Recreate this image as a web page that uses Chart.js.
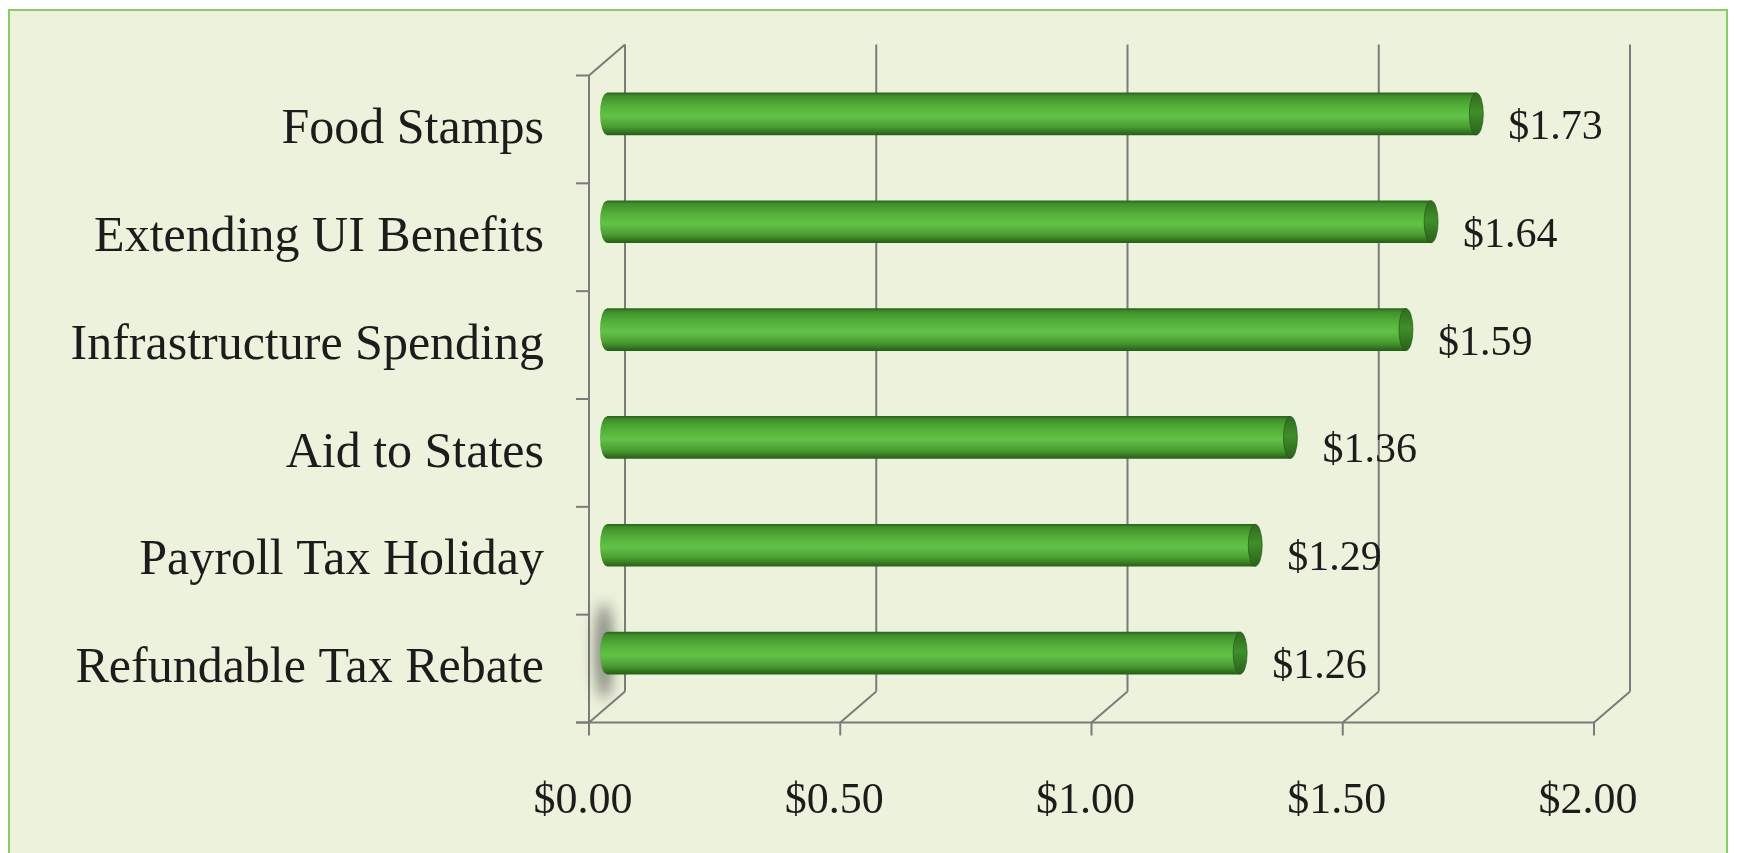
<!DOCTYPE html>
<html><head><meta charset="utf-8">
<script src="https://cdn.jsdelivr.net/npm/chart.js@4"></script>
<style>
html,body{margin:0;padding:0;background:#fff;width:1742px;height:853px;overflow:hidden}
#frame{position:absolute;left:8px;top:9px;width:1720px;height:870px;background:#edf2dc;border:2px solid #8cc96a;box-sizing:border-box}
#wrap{position:absolute;left:0;top:0;width:1742px;height:853px}
</style></head><body>
<div id="frame"></div>
<div id="wrap"><canvas id="c" width="1742" height="853"></canvas></div>
<script>
const categories = ['Food Stamps','Extending UI Benefits','Infrastructure Spending','Aid to States','Payroll Tax Holiday','Refundable Tax Rebate'];
const values = [1.73, 1.64, 1.59, 1.36, 1.29, 1.26];
const valueLabels = ['$1.73','$1.64','$1.59','$1.36','$1.29','$1.26'];
const tickValues = [0, 0.5, 1, 1.5, 2];
const tickLabels = ['$0.00','$0.50','$1.00','$1.50','$2.00'];

const DX = 18, DY = 15.5;       // half of the 3D depth offset
const LINE = '#7b7b7b';
const TEXT = '#1c1c1c';
const FONT = 'Liberation Serif';
const BAR_T = 42;

function bodyGradient(ctx, yc, h) {
  const g = ctx.createLinearGradient(0, yc - h/2, 0, yc + h/2);
  g.addColorStop(0, '#2c641d');
  g.addColorStop(0.07, '#3f8e2b');
  g.addColorStop(0.3, '#53ae39');
  g.addColorStop(0.55, '#62c247');
  g.addColorStop(0.8, '#4a9e32');
  g.addColorStop(0.93, '#34761f');
  g.addColorStop(1, '#285e19');
  return g;
}
function capGradient(ctx, yc, h) {
  const g = ctx.createLinearGradient(0, yc - h/2, 0, yc + h/2);
  g.addColorStop(0, '#2e6a1e');
  g.addColorStop(0.45, '#3f8f2a');
  g.addColorStop(1, '#2a621b');
  return g;
}

const frame3d = {
  id: 'frame3d',
  beforeDatasetsDraw(chart) {
    const ctx = chart.ctx, xs = chart.scales.x, a = chart.chartArea;
    const fTop = a.top + DY, fBot = a.bottom + DY, bTop = a.top - DY, bBot = a.bottom - DY;
    ctx.save();
    ctx.strokeStyle = LINE; ctx.lineWidth = 2; ctx.lineCap = 'butt';
    // back wall vertical gridlines
    tickValues.forEach(v => {
      const x = xs.getPixelForValue(v) + DX;
      ctx.beginPath(); ctx.moveTo(x, bTop); ctx.lineTo(x, bBot); ctx.stroke();
    });
    // floor: front edge, diagonals, ticks
    const xf0 = xs.getPixelForValue(tickValues[0]) - DX;
    const xf1 = xs.getPixelForValue(tickValues[tickValues.length-1]) - DX;
    ctx.beginPath(); ctx.moveTo(xf0 - 13, fBot); ctx.lineTo(xf1, fBot); ctx.stroke();
    tickValues.forEach(v => {
      const xf = xs.getPixelForValue(v) - DX, xb = xs.getPixelForValue(v) + DX;
      ctx.beginPath(); ctx.moveTo(xf, fBot); ctx.lineTo(xb, bBot); ctx.stroke();
      ctx.beginPath(); ctx.moveTo(xf, fBot); ctx.lineTo(xf, fBot + 13); ctx.stroke();
    });
    // left wall front line + top diagonal
    ctx.beginPath(); ctx.moveTo(xf0, fBot); ctx.lineTo(xf0, fTop); ctx.lineTo(xf0 + 2*DX, bTop); ctx.stroke();
    // category boundary ticks on left
    const n = categories.length, band = (a.bottom - a.top) / n;
    for (let i = 0; i <= n; i++) {
      const y = a.top + i * band + DY;
      ctx.beginPath(); ctx.moveTo(xf0 - 13, y); ctx.lineTo(xf0, y); ctx.stroke();
    }
    // soft shadow smudge near the lowest bar's base
    const last = chart.getDatasetMeta(0).data[n-1];
    if (last) {
      ctx.filter = 'blur(7px)';
      ctx.fillStyle = 'rgba(60,60,60,0.6)';
      ctx.beginPath();
      ctx.ellipse(last.base - 3, last.y - 2, 9, 48, 0, 0, Math.PI*2);
      ctx.fill();
      ctx.filter = 'none';
    }
    ctx.restore();
  },
  afterDatasetsDraw(chart) {
    const ctx = chart.ctx;
    const meta = chart.getDatasetMeta(0);
    ctx.save();
    meta.data.forEach((bar, i) => {
      const h = bar.height, yc = bar.y, rx = 7;
      // left rounded end
      ctx.fillStyle = bodyGradient(ctx, yc, h);
      ctx.beginPath();
      ctx.ellipse(bar.base, yc, rx, h/2, 0, Math.PI/2, Math.PI*1.5);
      ctx.closePath(); ctx.fill();
      // right end face
      ctx.fillStyle = capGradient(ctx, yc, h);
      ctx.beginPath();
      ctx.ellipse(bar.x, yc, rx, h/2, 0, 0, Math.PI*2);
      ctx.fill();
      ctx.strokeStyle = 'rgba(30,80,20,0.6)'; ctx.lineWidth = 1;
      ctx.stroke();
      // value label
      ctx.fillStyle = TEXT;
      ctx.font = '42px "' + FONT + '"';
      ctx.textAlign = 'left'; ctx.textBaseline = 'middle';
      ctx.fillText(valueLabels[i], bar.x + rx + 25, yc + 14);
    });
    ctx.restore();
  }
};

new Chart(document.getElementById('c'), {
  type: 'bar',
  data: {
    labels: categories,
    datasets: [{
      data: values,
      barThickness: BAR_T,
      borderWidth: 0,
      backgroundColor: (c) => {
        const ch = c.chart;
        if (!ch.chartArea || !ch.scales.y) return '#55b03b';
        const yc = ch.scales.y.getPixelForValue(c.dataIndex);
        return bodyGradient(ch.ctx, yc, BAR_T);
      }
    }]
  },
  options: {
    indexAxis: 'y',
    responsive: false,
    animation: false,
    devicePixelRatio: 1,
    layout: { padding: { top: 60, right: 130, left: 0, bottom: 0 } },
    plugins: { legend: { display: false }, tooltip: { enabled: false } },
    scales: {
      x: {
        min: 0, max: 2,
        afterBuildTicks: (s) => { s.ticks = tickValues.map(v => ({ value: v })); },
        ticks: {
          callback: (v) => tickLabels[tickValues.indexOf(v)],
          font: { family: FONT, size: 44 }, color: TEXT,
          padding: 68, labelOffset: -24, maxRotation: 0, autoSkip: false
        },
        grid: { display: false, drawTicks: false },
        border: { display: false },
        afterFit: (s) => { s.height = 146; s.paddingLeft = 0; s.paddingRight = 0; }
      },
      y: {
        ticks: {
          font: { family: FONT, size: 50 }, color: TEXT,
          padding: 63, labelOffset: 16, autoSkip: false
        },
        grid: { display: false, drawTicks: false },
        border: { display: false },
        afterFit: (s) => { s.width = 607; s.paddingTop = 0; s.paddingBottom = 0; }
      }
    }
  },
  plugins: [frame3d]
});
</script>
</body></html>
